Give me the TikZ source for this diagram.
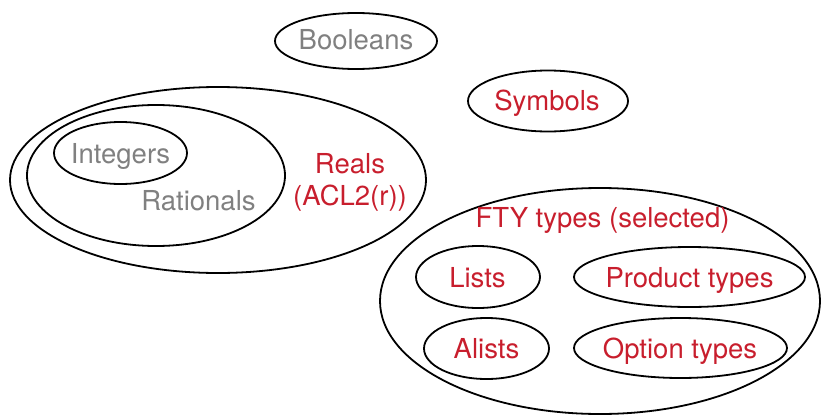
\documentclass[tikz,border=0pt]{standalone}
\usepackage{fontspec}
\setmainfont{TeX Gyre Heros}
\usetikzlibrary{shapes.geometric}
\definecolor{redt}{RGB}{200,30,45}
\definecolor{grayt}{RGB}{128,128,128}
\begin{document}
\begin{tikzpicture}[x=1pt,y=-1pt,
  set/.style={draw,ellipse,line width=1.8pt,inner sep=0pt},
  lbl/.style={font=\fontsize{27.5}{32}\selectfont,inner sep=0pt,anchor=base,align=center},
  rd/.style={lbl,text=redt},
  gy/.style={lbl,text=grayt}]
\useasboundingbox (0,0) rectangle (821,415);
% sets
\node[set,minimum width=162pt,minimum height=56pt] (bool) at (356,41) {};
\node[set,minimum width=160pt,minimum height=61pt] (sym) at (548,101) {};
\node[set,minimum width=416pt,minimum height=186pt] (reals) at (218,180) {};
\node[set,minimum width=258pt,minimum height=141pt] (rat) at (156,175.5) {};
\node[set,minimum width=133pt,minimum height=62pt] (int) at (120.5,153) {};
\node[set,minimum width=440pt,minimum height=226pt] (fty) at (600,301) {};
\node[set,minimum width=124pt,minimum height=62pt] (lists) at (478,277) {};
\node[set,minimum width=231pt,minimum height=60pt] (prod) at (689.5,277) {};
\node[set,minimum width=125pt,minimum height=61pt] (alists) at (486.5,348.5) {};
\node[set,minimum width=213pt,minimum height=60pt] (opt) at (680.5,348) {};
% labels
\node[gy] (tbool) at (356,49) {Booleans};
\node[rd] (tsym) at (547,110) {Symbols};
\node[gy] (tint) at (120.5,163) {Integers};
\node[gy] (trat) at (198.5,210) {Rationals};
\node[rd] (treal) at (350,205) {Reals\\(ACL2(r))};
\node[rd] (tfty) at (602.5,227) {FTY types (selected)};
\node[rd] (tlists) at (477.5,287) {Lists};
\node[rd] (tprod) at (689.5,287) {Product types};
\node[rd] (talists) at (486.5,358) {Alists};
\node[rd] (topt) at (680,358) {Option types};
\end{tikzpicture}
\end{document}
